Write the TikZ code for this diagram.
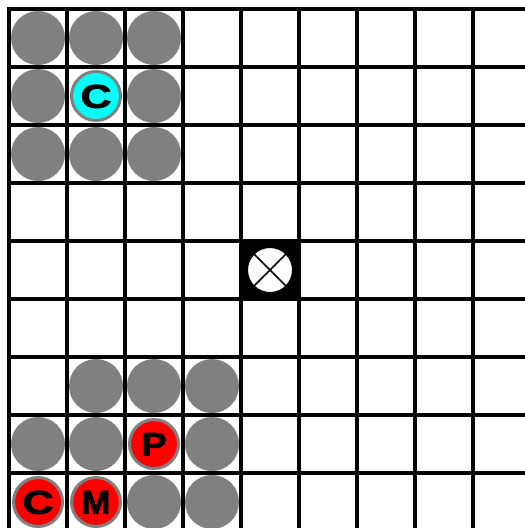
\documentclass[tikz,border=0pt]{standalone}
\usepackage{fontspec}
\setmainfont{Liberation Sans}
\font\heavyfont="Liberation Sans/B:embolden=2.2" at 33pt
\definecolor{pcyan}{RGB}{0,255,255}
\definecolor{pred}{RGB}{255,0,0}
\definecolor{pgray}{RGB}{128,128,128}
\begin{document}
\begin{tikzpicture}[x=1pt,y=-1pt,
  gridline/.style={line width=4pt, black},
  stone/.style={circle, fill=pgray, minimum size=54pt, inner sep=0pt},
  piece/.style={circle, draw=pgray, line width=3pt, minimum size=49pt, inner sep=0pt,
    text height=23.6pt, text depth=0pt, font=\heavyfont},
  cyanpiece/.style={piece, fill=pcyan},
  redpiece/.style={piece, fill=pred},
  target/.style={circle, fill=white, draw=black, line width=1pt, minimum size=45pt, inner sep=0pt}]
\useasboundingbox (0,0) rectangle (525,528);
\begin{scope}
\clip (0,0) rectangle (525,528);
\fill[white] (0,0) rectangle (525,528);
\foreach \k in {0,...,9} {
  \draw[gridline] (9+58*\k,7) -- (9+58*\k,540);
  \draw[gridline] (7,9+58*\k) -- (540,9+58*\k);
}
% target cell
\fill[black] (241,241) rectangle (299,299);
\node[target] (tgt) at (270,270) {};
\draw[black, line width=1.5pt] (tgt.north west) -- (tgt.south east);
\draw[black, line width=1.5pt] (tgt.north east) -- (tgt.south west);
% gray stones
\foreach \c/\r/\n in {0/0/s1,1/0/s2,2/0/s3,0/1/s4,2/1/s5,0/2/s6,1/2/s7,2/2/s8,
                      1/6/s9,2/6/s10,3/6/s11,0/7/s12,1/7/s13,3/7/s14,2/8/s15,3/8/s16} {
  \node[stone] (\n) at (38+58*\c,38+58*\r) {};
}
% pieces
\node[cyanpiece] (pc) at (96,96) {\scalebox{1.3}[1]{C}};
\node[redpiece] (pp) at (154,444) {\scalebox{1.15}[1]{P}};
\node[redpiece] (rc) at (38,502) {\scalebox{1.3}[1]{C}};
\node[redpiece] (rm) at (96,502) {\scalebox{1.05}[1]{M}};
\end{scope}
\end{tikzpicture}
\end{document}
